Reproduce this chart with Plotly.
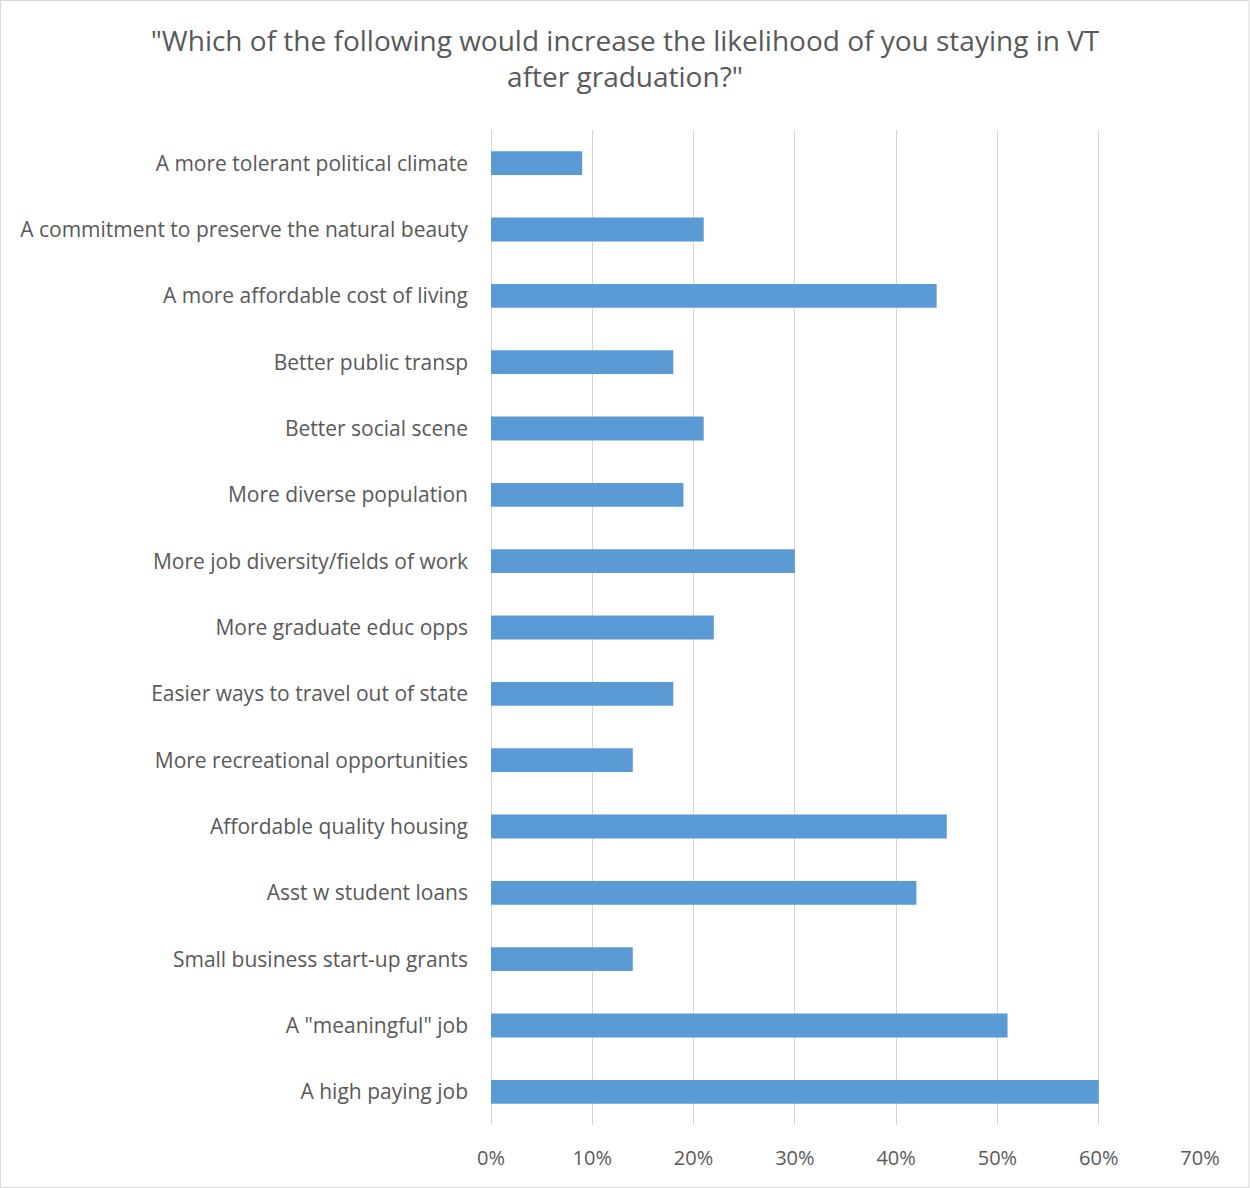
import plotly.graph_objects as go

categories = [
    "A more tolerant political climate",
    "A commitment to preserve the natural beauty",
    "A more affordable cost of living",
    "Better public transp",
    "Better social scene",
    "More diverse population",
    "More job diversity/fields of work",
    "More graduate educ opps",
    "Easier ways to travel out of state",
    "More recreational opportunities",
    "Affordable quality housing",
    "Asst w student loans",
    "Small business start-up grants",
    "A \"meaningful\" job",
    "A high paying job",
]
values = [0.09, 0.21, 0.44, 0.18, 0.21, 0.19, 0.30, 0.22, 0.18, 0.14, 0.45, 0.42, 0.14, 0.51, 0.60]

W, H = 1250, 1188
L, R, T, B = 491, 50, 130, 63
pw, ph = W - L - R, H - T - B

fig = go.Figure(go.Bar(
    y=categories, x=values, orientation="h",
    marker=dict(color="#5B9BD5", line=dict(color="#5B9BD5", width=0)),
    width=0.36,
))

font_family = "'Open Sans', 'Noto Sans', sans-serif"
fig.update_layout(
    width=W, height=H,
    margin=dict(l=L, r=R, t=T, b=B, autoexpand=False),
    paper_bgcolor="white", plot_bgcolor="white",
    showlegend=False,
    title=dict(
        text="\"Which of the following would increase the likelihood of you staying in VT<br>after graduation?\"",
        x=0.5, xanchor="center", y=1 - 51 / H, yanchor="middle",
        font=dict(family=font_family, size=28, color="#595959"),
    ),
    font=dict(family=font_family, size=21, color="#595959"),
)
fig.update_xaxes(
    range=[0, 0.7], dtick=0.1, tickformat=".0%",
    showgrid=True, gridcolor="#D6D6D6", gridwidth=1.4,
    zeroline=True, zerolinecolor="#D6D6D6", zerolinewidth=1.4,
    showline=False, ticks="", ticklen=0,
    ticklabelstandoff=19,
    tickfont=dict(size=20, color="#595959"),
    fixedrange=True,
)
fig.update_yaxes(
    autorange="reversed", showgrid=False, showline=False, ticks="",
    ticklabelstandoff=22,
    tickfont=dict(size=21, color="#595959"),
    fixedrange=True,
)
fig.add_shape(
    type="rect", xref="paper", yref="paper",
    x0=-(L - 0.5) / pw, x1=(W - 1 - L) / pw,
    y0=-(B - 0.5) / ph, y1=(H - 0.5 - B) / ph,
    line=dict(color="#D9D9D9", width=1), layer="below",
)
fig.write_html("out.html", config={"displayModeBar": False},
               post_script="document.body.style.margin='0px';")
